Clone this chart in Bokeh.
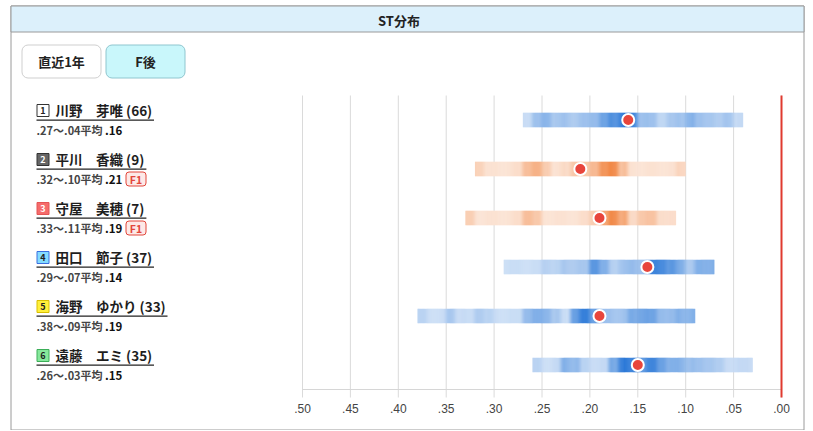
import numpy as np
from bokeh.plotting import figure
from bokeh.models import Range1d
from bokeh.core.properties import value
from bokeh.embed import file_html
from bokeh.resources import INLINE

# ---------------- data ----------------
lanes = ["1", "2", "3", "4", "5", "6"]
racers = ["川野　芽唯", "平川　香織", "守屋　美穂", "田口　節子", "海野　ゆかり", "遠藤　エミ"]
race_counts = [66, 9, 7, 37, 33, 35]
st_worst = [0.27, 0.32, 0.33, 0.29, 0.38, 0.26]
st_best = [0.04, 0.10, 0.11, 0.07, 0.09, 0.03]
st_avg = [0.16, 0.21, 0.19, 0.14, 0.19, 0.15]
flying = ["", "F1", "F1", "", "", ""]

# ST frequency intensity per 0.01 bin, from worst ST to best ST
density_1 = [0.15, 0.35, 0.5, 0.3, 0.35, 0.3, 0.35, 0.45, 0.6, 0.8, 0.95, 0.85,
             0.4, 0.35, 0.2, 0.3, 0.35, 0.5, 0.35, 0.35, 0.25, 0.35, 0.15]
density_2 = [0.25, 0.08, 0.08, 0.08, 0.12, 0.45, 0.5, 0.3, 0.08, 0.15, 0.35,
             0.3, 0.5, 0.75, 0.9, 0.4, 0.08, 0.08, 0.08, 0.08, 0.08, 0.2]
density_3 = [0.25, 0.08, 0.08, 0.08, 0.08, 0.12, 0.45, 0.3, 0.08, 0.08, 0.08,
             0.08, 0.12, 0.3, 0.6, 0.9, 0.6, 0.15, 0.35, 0.35, 0.15, 0.12]
density_4 = [0.12, 0.12, 0.12, 0.12, 0.25, 0.2, 0.3, 0.3, 0.3, 0.8, 0.5,
             0.25, 0.35, 0.4, 0.4, 0.85, 0.9, 0.7, 0.55, 0.3, 0.5, 0.55]
density_5 = [0.2, 0.12, 0.12, 0.3, 0.15, 0.12, 0.3, 0.2, 0.12, 0.12, 0.12,
             0.45, 0.5, 0.5, 0.3, 0.12, 0.7, 0.9, 0.7, 0.35, 0.35, 0.35,
             0.55, 0.65, 0.6, 0.45, 0.4, 0.5, 0.5]
density_6 = [0.2, 0.12, 0.15, 0.5, 0.45, 0.2, 0.15, 0.15, 0.6, 0.95, 0.85, 0.75,
             0.85, 0.7, 0.5, 0.5, 0.4, 0.35, 0.35, 0.25, 0.15, 0.15, 0.15]
densities = [density_1, density_2, density_3, density_4, density_5, density_6]

tick_values = [0.50, 0.45, 0.40, 0.35, 0.30, 0.25, 0.20, 0.15, 0.10, 0.05, 0.00]
tick_labels = [".50", ".45", ".40", ".35", ".30", ".25", ".20", ".15", ".10", ".05", ".00"]

title_text = "ST分布"
buttons = ["直近1年", "F後"]

# ---------------- layout / styles ----------------
FONT = value("Noto Sans CJK JP")
W, H = 806, 430
PX50, PX00 = 302, 781          # pixel columns of .50 and .00
LANE_TOP, LANE_PX = 95, 49     # top of lane 1 and lane height (px)
PLOT_BOTTOM = 397
BIN = 0.01
SUB = 10

BLUE_LIGHT, BLUE_DARK = (224, 235, 249), (36, 116, 214)
ORNG_LIGHT, ORNG_DARK = (252, 235, 224), (240, 122, 48)
badge_fill = ["#ffffff", "#666666", "#f56b6b", "#84dcff", "#fff03c", "#86e89c"]
badge_line = ["#333333", "#333333", "#e45555", "#3b6fe0", "#d9bf00", "#3cae58"]
badge_text = ["#222222", "#ffffff", "#ffffff", "#222222", "#222222", "#222222"]


def mix(c0, c1, t):
    t = float(np.clip(t, 0, 1))
    r, g, b = (int(round(a + (b_ - a) * t)) for a, b_ in zip(c0, c1))
    return "#%02x%02x%02x" % (r, g, b)


def X(px):  # canvas pixel -> data x (ST value)
    return 0.5 - (px - PX50) * 0.5 / (PX00 - PX50)


def Y(py):  # canvas pixel -> data y (lane units, lane i centre at i+0.5)
    return (py - LANE_TOP) / LANE_PX


p = figure(width=W, height=H, output_backend="svg", toolbar_location=None,
           title=None, x_range=Range1d(X(0), X(W)), y_range=Range1d(Y(H), Y(0)),
           x_axis_location=None, y_axis_location=None, min_border=0)
p.min_border_left = p.min_border_right = p.min_border_top = p.min_border_bottom = 0
p.outline_line_color = None
p.background_fill_color = "white"
p.border_fill_color = "white"
p.grid.visible = False


def box(x0, x1, y0, y1, fill=None, line=None, lw=1, radius=0):
    p.quad(left=[X(x0)], right=[X(x1)], top=[Y(y0)], bottom=[Y(y1)],
           fill_color=fill if fill else None, line_color=line if line else None,
           line_width=lw, border_radius=radius)


def label(x, y, text, size="13px", color="#222222", align="left", bold=True):
    p.text(x=[X(x)], y=[Y(y)], text=[text], text_font=FONT, text_font_size=size,
           text_color=color, text_align=align, text_baseline="middle",
           text_font_style="bold" if bold else "normal")


# panel + header
box(10.5, 803.5, 5.5, H - 0.5, line="#9a9a9a")
box(10.5, 803.5, 5.5, 31.5, fill="#dcf0fb", line="#9a9a9a")
label(398.5, 19.5, title_text, size="13px", color="#222222", align="center")

box(21.5, 100.5, 44.5, 77.5, fill="#ffffff", line="#cfcfcf", radius=6)
box(105.5, 184.5, 44.5, 77.5, fill="#c9f7fb", line="#8fc6cf", radius=6)
label(61, 61, buttons[0], align="center")
label(145, 61, buttons[1], align="center")

# grid, baseline, tick labels
p.segment(x0=tick_values, x1=tick_values, y0=Y(LANE_TOP), y1=Y(PLOT_BOTTOM),
          line_color="#dadada", line_width=1)
p.segment(x0=[tick_values[0]], x1=[tick_values[-1]], y0=[6], y1=[6],
          line_color="#d6d6d6", line_width=1)
p.text(x=tick_values, y=Y(408), text=tick_labels, text_font=value("Liberation Sans"),
       text_font_size="12px", text_color="#444444", text_align="center",
       text_baseline="middle")

# heat bars
bar_h = 14.4 / LANE_PX
for i, dens in enumerate(densities):
    n = len(dens)
    light, dark = (ORNG_LIGHT, ORNG_DARK) if flying[i] else (BLUE_LIGHT, BLUE_DARK)
    sw = BIN / SUB
    lefts, rights, cols = [], [], []
    for k in range(n * SUB):
        f = (k + 0.5) / SUB - 0.5
        i0 = int(np.floor(f))
        t = f - i0
        a = dens[min(max(i0, 0), n - 1)]
        b = dens[min(max(i0 + 1, 0), n - 1)]
        tt = np.clip((t - 0.15) / 0.7, 0, 1)
        tt = tt * tt * (3 - 2 * tt)
        d = a + (b - a) * tt
        hi = st_worst[i] - k * sw
        lefts.append(hi + (0.0004 if k else 0))
        rights.append(hi - sw)
        cols.append(mix(light, dark, d))
    yc = i + 0.5
    p.quad(left=lefts, right=rights, top=yc - bar_h / 2, bottom=yc + bar_h / 2,
           fill_color=cols, line_color=None)

p.scatter(x=st_avg, y=[i + 0.5 for i in range(len(lanes))], size=12,
          fill_color="#e8453c", line_color="white", line_width=2)

# .00 line
p.segment(x0=[0], x1=[0], y0=[Y(LANE_TOP)], y1=[Y(PLOT_BOTTOM)],
          line_color="#e03a2f", line_width=2)


def fmt(v):
    return ("%.2f" % v)[1:]


# lane labels
for i in range(len(lanes)):
    cy = LANE_TOP + LANE_PX * (i + 0.5)
    box(36.5, 48.5, cy - 15.5, cy - 3.5, fill=badge_fill[i], line=badge_line[i])
    label(42.5, cy - 9.5, lanes[i], size="9px", color=badge_text[i], align="center")
    name = "%s (%d)" % (racers[i], race_counts[i])
    label(55, cy - 9.8, name, size="13.5px", color="#1e1e1e")
    n_cjk = len(racers[i])
    n_dig = len(str(race_counts[i]))
    end = 55 + 13.5 * n_cjk + 3.8 + 7.6 * n_dig + 9 + 3
    box(36, end, cy - 0.6, cy + 0.8, fill="#222222")
    label(36, cy + 10.2, "%s〜%s平均" % (fmt(st_worst[i]), fmt(st_best[i])),
          size="11px", color="#454545")
    label(104.5, cy + 10.2, fmt(st_avg[i]), size="11.5px", color="#111111")
    if flying[i]:
        box(125.5, 145.5, cy + 3, cy + 17, fill="#fde9e7", line="#e2463b", radius=3)
        label(135.5, cy + 10.2, flying[i], size="10.5px", color="#e2463b", align="center")

open("out.html", "w").write(file_html(p, INLINE))
